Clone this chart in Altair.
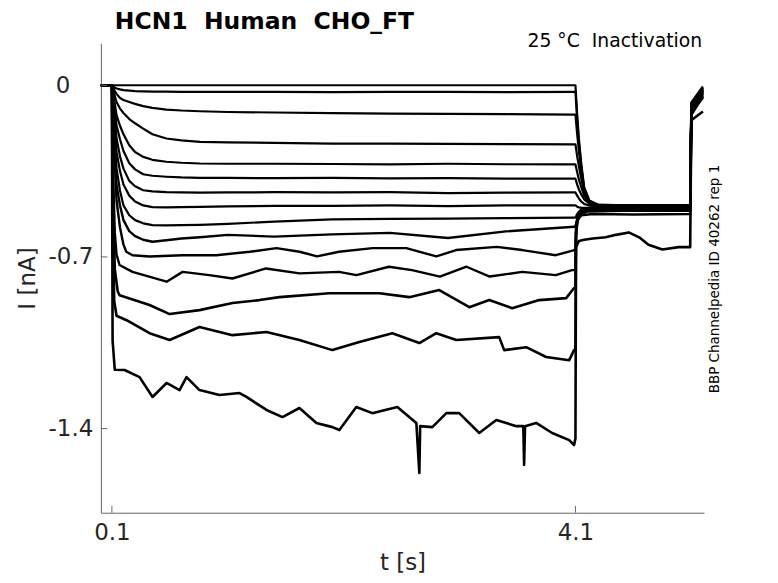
import altair as alt
import pandas as pd

# ---- time grid shared by the upper (smooth) sweeps, seconds ----
TU = [0.005, 0.1, 0.12, 0.14, 0.17, 0.2, 0.25, 0.3, 0.37, 0.45, 0.57, 0.7, 0.86,
      1.1, 1.5, 2.0, 2.5, 3.0, 3.5, 4.09,
      4.1, 4.115, 4.13, 4.15, 4.175, 4.22, 4.3, 4.6, 5.09,
      5.1, 5.2]

# currents in nA
I1 = [0, 0,
      0, 0, 0, 0, 0, 0, 0, 0, 0, 0, 0,
      0, 0, 0, 0, 0, 0, 0,
      0, -0.12, -0.22, -0.32, -0.415, -0.47, -0.488, -0.49, -0.488,
      -0.07, -0.005]
I2 = [0, 0,
      -0.008, -0.013, -0.017, -0.02, -0.022, -0.024, -0.025, -0.026, -0.026, -0.027, -0.027,
      -0.027, -0.027, -0.028, -0.027, -0.027, -0.028, -0.027,
      -0.027, -0.14, -0.235, -0.33, -0.42, -0.472, -0.488, -0.49, -0.49,
      -0.075, -0.01]
I3 = [0, 0,
      -0.02, -0.035, -0.052, -0.06, -0.068, -0.076, -0.085, -0.092, -0.099, -0.103, -0.106,
      -0.109, -0.111, -0.114, -0.116, -0.117, -0.118, -0.12,
      -0.12, -0.2, -0.27, -0.345, -0.425, -0.475, -0.49, -0.492, -0.49,
      -0.08, -0.012]
I4 = [0, 0,
      -0.035, -0.068, -0.095, -0.113, -0.138, -0.155, -0.177, -0.2, -0.217, -0.225, -0.231,
      -0.233, -0.235, -0.238, -0.238, -0.239, -0.24, -0.241,
      -0.241, -0.29, -0.33, -0.38, -0.435, -0.478, -0.49, -0.49, -0.49,
      -0.085, -0.015]
I5 = [0, 0,
      -0.06, -0.122, -0.165, -0.2, -0.245, -0.272, -0.292, -0.304, -0.312, -0.316, -0.319,
      -0.32, -0.32, -0.321, -0.323, -0.32, -0.322, -0.323,
      -0.323, -0.355, -0.385, -0.415, -0.45, -0.48, -0.492, -0.49, -0.492,
      -0.09, -0.018]
I6 = [0, 0,
      -0.08, -0.163, -0.22, -0.268, -0.318, -0.343, -0.363, -0.369, -0.373, -0.376, -0.378,
      -0.378, -0.379, -0.378, -0.38, -0.379, -0.381, -0.381,
      -0.381, -0.405, -0.425, -0.445, -0.465, -0.483, -0.492, -0.494, -0.493,
      -0.095, -0.02]
I7 = [0, 0,
      -0.11, -0.216, -0.29, -0.34, -0.39, -0.412, -0.428, -0.433, -0.436, -0.437, -0.438,
      -0.437, -0.436, -0.437, -0.436, -0.44, -0.438, -0.437,
      -0.437, -0.45, -0.462, -0.474, -0.484, -0.49, -0.494, -0.495, -0.494,
      -0.1, -0.022]
I8 = [0, 0,
      -0.14, -0.272, -0.35, -0.405, -0.45, -0.474, -0.49, -0.497, -0.498, -0.497, -0.496,
      -0.494, -0.492, -0.492, -0.49, -0.493, -0.49, -0.49,
      -0.49, -0.495, -0.498, -0.5, -0.5, -0.5, -0.498, -0.497, -0.497,
      -0.1, -0.025]
I9 = [0, 0,
      -0.17, -0.338, -0.43, -0.49, -0.53, -0.55, -0.563, -0.57, -0.571, -0.57, -0.569,
      -0.565, -0.556, -0.547, -0.545, -0.544, -0.542, -0.54,
      -0.54, -0.525, -0.515, -0.508, -0.503, -0.5, -0.5, -0.498, -0.5,
      -0.105, -0.028]
I10 = [0, 0,
       -0.2, -0.407, -0.49, -0.55, -0.595, -0.615, -0.63, -0.638, -0.632, -0.625, -0.62,
       -0.61, -0.617, -0.608, -0.602, -0.623, -0.596, -0.577,
       -0.577, -0.545, -0.525, -0.512, -0.505, -0.5, -0.5, -0.502, -0.5,
       -0.1, -0.03]

# ---- lower (noisy) sweeps, each with its own time points ----
T11 = [0.005, 0.1, 0.12, 0.14, 0.17, 0.2, 0.224, 0.278, 0.425, 0.71,
       1.0, 1.29, 1.52, 1.72, 1.87, 2.06, 2.35, 2.64, 2.9, 3.07,
       3.42, 3.64, 3.93, 4.09, 4.1, 4.105, 4.115, 4.13, 4.15, 4.2,
       4.3, 4.6, 5.09, 5.1, 5.2]
I11 = [0, 0, -0.25, -0.47, -0.58, -0.65, -0.679, -0.693, -0.698, -0.693,
       -0.693, -0.679, -0.664, -0.679, -0.698, -0.679, -0.664, -0.664, -0.698, -0.672,
       -0.659, -0.672, -0.693, -0.672, -0.672, -0.6, -0.55, -0.525, -0.512, -0.505,
       -0.505, -0.503, -0.505, -0.11, -0.035]

T12 = [0.005, 0.1, 0.11, 0.125, 0.14, 0.166, 0.278, 0.572, 0.71, 0.94,
       1.14, 1.43, 1.72, 2.06, 2.21, 2.49, 2.69, 2.93, 3.16, 3.36,
       3.64, 3.93, 4.07, 4.1, 4.105, 4.115, 4.13, 4.15, 4.2, 4.3,
       4.6, 5.09, 5.1, 5.2]
I12 = [0, 0, -0.35, -0.6, -0.69, -0.733, -0.761, -0.801, -0.761, -0.774,
       -0.788, -0.747, -0.767, -0.761, -0.774, -0.74, -0.754, -0.78, -0.74, -0.78,
       -0.761, -0.774, -0.754, -0.754, -0.62, -0.56, -0.535, -0.52, -0.51, -0.505,
       -0.507, -0.505, -0.115, -0.04]

T13 = [0.005, 0.1, 0.11, 0.125, 0.15, 0.166, 0.425, 0.598, 0.856, 1.141,
       1.373, 1.546, 1.977, 2.408, 2.666, 2.925, 3.184, 3.356, 3.554, 3.787,
       4.02, 4.088, 4.1, 4.105, 4.12, 4.15, 4.2, 4.5, 5.09, 5.1,
       5.2]
I13 = [0, 0, -0.45, -0.75, -0.84, -0.856, -0.896, -0.933, -0.917, -0.888,
       -0.876, -0.864, -0.848, -0.848, -0.864, -0.835, -0.905, -0.876, -0.909, -0.876,
       -0.868, -0.827, -0.827, -0.6, -0.55, -0.525, -0.515, -0.512, -0.512, -0.12,
       -0.045]

T14 = [0.005, 0.1, 0.108, 0.12, 0.14, 0.227, 0.425, 0.598, 0.856, 1.141,
       1.434, 1.718, 2.003, 2.235, 2.52, 2.753, 2.899, 3.072, 3.442, 3.485,
       3.675, 3.847, 4.046, 4.088, 4.1, 4.105, 4.12, 4.15, 4.25, 4.6,
       5.09, 5.1, 5.2]
I14 = [0, 0, -0.6, -0.88, -0.94, -0.958, -1.011, -1.039, -0.986, -1.019,
       -1.006, -1.039, -1.08, -1.047, -1.011, -1.051, -1.011, -1.039, -1.027, -1.08,
       -1.068, -1.108, -1.121, -1.08, -1.08, -0.57, -0.545, -0.53, -0.525, -0.527,
       -0.525, -0.11, -0.05]

T15 = [0.005, 0.1, 0.106, 0.125, 0.209, 0.339, 0.451, 0.572, 0.684, 0.744,
       0.856, 1.028, 1.201, 1.261, 1.434, 1.572, 1.718, 1.865, 2.003, 2.063,
       2.209, 2.347, 2.563, 2.727, 2.753, 2.76, 2.865, 2.986, 3.097, 3.27,
       3.417, 3.589, 3.65, 3.657, 3.665, 3.761, 3.899, 4.046, 4.088, 4.1,
       4.105, 4.13, 4.175, 4.25, 4.36, 4.45, 4.56, 4.65, 4.73, 4.85,
       4.99, 5.09, 5.1, 5.2]
I15 = [0, 0, -1.04, -1.16, -1.161, -1.19, -1.271, -1.214, -1.243, -1.19,
       -1.243, -1.263, -1.255, -1.271, -1.324, -1.353, -1.316, -1.377, -1.394, -1.406,
       -1.312, -1.337, -1.312, -1.377, -1.581, -1.39, -1.394, -1.337, -1.337, -1.418,
       -1.365, -1.39, -1.39, -1.548, -1.39, -1.377, -1.418, -1.447, -1.467, -1.44,
       -0.66, -0.635, -0.63, -0.625, -0.62, -0.61, -0.6, -0.62, -0.65, -0.67,
       -0.66, -0.66, -0.143, -0.107]

X_TICKS = [0.1, 4.1]
Y_TICKS = [0, -0.7, -1.4]

sweeps = [
    ("s01", TU, I1, "a"), ("s02", TU, I2, "a"), ("s03", TU, I3, "a"),
    ("s04", TU, I4, "a"), ("s05", TU, I5, "a"), ("s06", TU, I6, "a"),
    ("s07", TU, I7, "a"), ("s08", TU, I8, "a"), ("s09", TU, I9, "a"),
    ("s10", TU, I10, "b"), ("s11", T11, I11, "b"), ("s12", T12, I12, "b"),
    ("s13", T13, I13, "c"), ("s14", T14, I14, "c"), ("s15", T15, I15, "c"),
]
rows = []
for name, ts, vals, grp in sweeps:
    assert len(ts) == len(vals), name
    for k, (t, v) in enumerate(zip(ts, vals)):
        rows.append({"trace": name, "k": k, "t": t, "I": v, "grp": grp})
df = pd.DataFrame(rows)

FONT = "DejaVu Sans"
AX = "#666666"
TXT = "#262626"

xs = alt.Scale(domain=[0.005, 5.21], nice=False, zero=False)
ys = alt.Scale(domain=[-1.743, 0.171], nice=False, zero=False)

x_axis = alt.Axis(values=X_TICKS, format=".1f", ticks=False, tickSize=0, grid=False,
                  domainColor=AX, domainWidth=1, labelFlush=False,
                  labelFont=FONT, labelFontSize=23, labelColor=TXT, labelPadding=9,
                  titleFont=FONT, titleFontSize=23, titleFontWeight="normal",
                  titleColor=TXT, titleX=302, titleY=50, titleBaseline="middle",
                  titleAlign="center")
y_axis = alt.Axis(values=Y_TICKS, labelExpr="'' + datum.value", ticks=False, tickSize=0,
                  grid=False, domainColor=AX, domainWidth=1,
                  labelFont=FONT, labelFontSize=23, labelColor=TXT,
                  labelPadding={"condition": {"test": "datum.value == 0", "value": 31}, "value": 8},
                  titleFont=FONT, titleFontSize=23, titleFontWeight="normal",
                  titleColor=TXT, titleX=-73, titleY=235, titleAngle=270,
                  titleBaseline="middle", titleAlign="center")

lines = alt.Chart(df).mark_line(color="black", strokeJoin="round").encode(
    x=alt.X("t:Q", scale=xs, axis=x_axis, title="t [s]"),
    y=alt.Y("I:Q", scale=ys, axis=y_axis, title="I [nA]"),
    detail="trace:N",
    order="k:Q",
    strokeWidth=alt.StrokeWidth("grp:N", scale=alt.Scale(domain=["a", "b", "c"],
                                                         range=[2.2, 2.6, 3.2]),
                                legend=None),
)

xt = alt.Chart(pd.DataFrame({"t": X_TICKS})).mark_rule(color=AX, strokeWidth=1).encode(
    x=alt.X("t:Q", title="t [s]"), y=alt.value(470), y2=alt.value(463.3))
yt = alt.Chart(pd.DataFrame({"I": Y_TICKS})).mark_rule(color=AX, strokeWidth=1).encode(
    y=alt.Y("I:Q", title="I [nA]"), x=alt.value(0), x2=alt.value(6.5))

one = pd.DataFrame({"a": [0]})
title = alt.Chart(one).mark_text(
    text="HCN1\u00a0\u00a0Human\u00a0\u00a0CHO_FT", font=FONT, fontSize=23.5,
    fontWeight="bold", align="left", baseline="alphabetic", color="black"
).encode(x=alt.value(14), y=alt.value(-14))
cond = alt.Chart(one).mark_text(
    text="25 \u00b0C\u00a0\u00a0Inactivation", font=FONT, fontSize=18.8,
    align="right", baseline="alphabetic", color="black"
).encode(x=alt.value(602), y=alt.value(4))
side = alt.Chart(one).mark_text(
    text="BBP Channelpedia ID 40262 rep 1", font=FONT, fontSize=13.5, angle=270,
    align="center", baseline="middle", color="black"
).encode(x=alt.value(615), y=alt.value(236))

chart = alt.layer(lines, xt, yt, title, cond, side).properties(
    width=604, height=470,
    autosize=alt.AutoSizeParams(type="none"),
    padding={"left": 93, "top": 35, "right": 66, "bottom": 62},
    background="white",
).configure_view(stroke=None)

chart.save("out.html", embed_options={"renderer": "svg", "actions": False})
